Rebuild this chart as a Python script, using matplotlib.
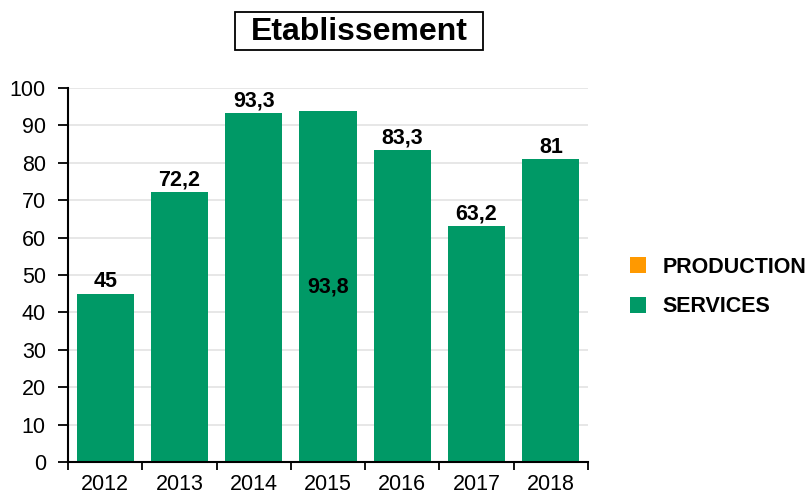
import matplotlib
matplotlib.use("Agg")
import matplotlib.pyplot as plt
from matplotlib.patches import Patch, Rectangle

plt.rcParams['font.family'] = ['Liberation Sans', 'DejaVu Sans']

years = ['2012', '2013', '2014', '2015', '2016', '2017', '2018']
production = [0, 0, 0, 0, 0, 0, 0]
services = [45, 72.2, 93.3, 93.8, 83.3, 63.2, 81]
services_labels = ['45', '72,2', '93,3', '93,8', '83,3', '63,2', '81']
centered_label_years = ['2015']

c_prod = '#FF9900'
c_serv = '#009966'

W, H = 811, 496
fig = plt.figure(figsize=(W/100, H/100), dpi=100)
ax = fig.add_axes([68/W, 1-462/H, (588-68)/W, (462-88)/H])

x = list(range(len(years)))
ax.bar(x, production, width=0.77, color=c_prod, zorder=2)
ax.bar(x, services, bottom=production, width=0.77, color=c_serv, zorder=2)

for i, (v, lab) in enumerate(zip(services, services_labels)):
    if years[i] in centered_label_years:
        ax.text(i, v/2, lab, ha='center', va='center', fontsize=15.5, fontweight='bold', zorder=3)
    else:
        ax.text(i, v + 0.4, lab, ha='center', va='bottom', fontsize=15.5, fontweight='bold', zorder=3)

ax.set_xlim(-0.5, len(years) - 0.5)
ax.set_ylim(0, 100)
ax.set_yticks(range(0, 101, 10))
ax.tick_params(axis='y', labelsize=15.5, length=7, width=1.3, direction='out', pad=9)
ax.set_xticks(x)
ax.set_xticklabels(years)
ax.set_xticks([i - 0.5 for i in range(len(years) + 1)], minor=True)
ax.tick_params(axis='x', which='major', length=0, labelsize=15.5, pad=9)
ax.tick_params(axis='x', which='minor', length=6, width=1.3, direction='out')

ax.grid(axis='y', color='#E3E3E3', linewidth=1.2, zorder=0)
for s in ['top', 'right']:
    ax.spines[s].set_visible(False)
for s in ['left', 'bottom']:
    ax.spines[s].set_linewidth(1.5)
    ax.spines[s].set_color('black')

# title with box
fig.patches.append(Rectangle((235/W, 1-50/H), (483-235)/W, (50-12)/H, transform=fig.transFigure,
                             facecolor='white', edgecolor='black', linewidth=1.3, zorder=1))
fig.text(359/W, 1-32/H, 'Etablissement', ha='center', va='center', fontsize=23, fontweight='bold', zorder=2)

handles = [Patch(facecolor=c_prod, label='PRODUCTION'), Patch(facecolor=c_serv, label='SERVICES')]
fig.legend(handles=handles, loc='center left', bbox_to_anchor=(630/W, 1-287/H), frameon=False,
           prop={'size': 15.5, 'weight': 'bold'}, handlelength=0.76, handleheight=0.76, handletextpad=0.74,
           labelspacing=0.85, borderpad=0, borderaxespad=0)

fig.savefig('out.png', dpi=100)
